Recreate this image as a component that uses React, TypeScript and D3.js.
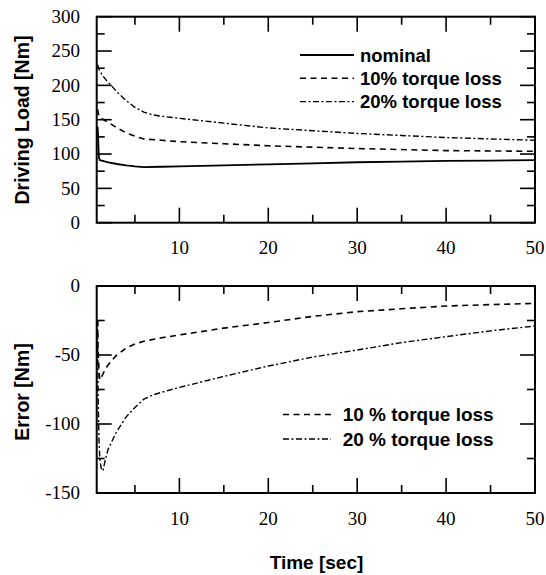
import React from "react";
import * as d3 from "d3";

// ---- Data ----
const xTicks = [5, 10, 15, 20, 25, 30, 35, 40, 45, 50];
const xTickLabels = [10, 20, 30, 40, 50];

const loadTicks = [0, 25, 50, 75, 100, 125, 150, 175, 200, 225, 250, 275, 300];
const loadTickLabels = [0, 50, 100, 150, 200, 250, 300];
const errTicks = [-150, -125, -100, -75, -50, -25, 0];
const errTickLabels = [-150, -100, -50, 0];

const timeNominal = [0.8, 0.85, 0.9, 0.95, 1.05, 1.5, 2, 3, 4, 5, 6, 8, 10, 15, 20, 25, 30, 35, 40, 45, 50];
const loadNominal = [140, 128, 110, 95, 91, 89.5, 88, 85.5, 83.5, 82, 81, 81.5, 82, 83.5, 85, 86.5, 88, 89, 90, 90.5, 91];

const timeLoad10 = [0.8, 0.9, 1.05, 1.5, 2, 3, 4, 5, 6, 8, 10, 15, 20, 25, 30, 35, 40, 45, 50];
const loadLoss10 = [165, 158, 153, 150, 146, 138, 131, 126, 122, 120, 118, 115, 112, 110, 108, 106.5, 105, 104.5, 104];

const timeLoad20 = [0.8, 0.9, 1.05, 1.5, 2, 2.4, 3, 4, 5, 6, 7, 8, 10, 15, 20, 25, 30, 35, 40, 45, 50];
const loadLoss20 = [230, 226, 221, 212, 204, 199, 190, 178, 168, 161, 157, 155, 152, 145, 138, 134, 130, 127, 124, 122, 120];

const timeErr10 = [0.8, 0.85, 0.95, 1.05, 1.25, 1.6, 2, 2.8, 4, 5, 6, 8, 10, 15, 20, 25, 30, 35, 40, 45, 50];
const errLoss10 = [-25, -45, -60, -68, -66, -61, -57, -51, -45, -42, -40, -37.5, -35.5, -30.5, -26.5, -22, -18.6, -16.5, -14.5, -13.5, -12.6];

const timeErr20 = [0.8, 0.85, 0.95, 1.05, 1.2, 1.4, 1.7, 2, 2.9, 4, 5, 6, 7, 8, 10, 15, 20, 25, 30, 35, 40, 45, 50];
const errLoss20 = [-25, -75, -110, -125, -132, -134, -125, -118, -106, -95, -88, -82, -79, -77, -73.5, -65.5, -58, -51.5, -46.4, -41, -36.7, -32.5, -29];

const topLegend = ["nominal", "10% torque loss", "20% torque loss"];
const bottomLegend = ["10 % torque loss", "20 % torque loss"];

// ---- Styles ----
const DASH_10 = "6,4.5";
const DASH_20 = "6,2.5,2,2.5";
const serif = "'Liberation Serif', 'Times New Roman', serif";
const sans = "'Liberation Sans', Arial, sans-serif";

const X0 = 96.7;
const X1 = 535;

function zip(t: number[], v: number[]): [number, number][] {
  return t.map((d, i) => [d, v[i]]);
}

type PanelProps = {
  top: number;
  bottom: number;
  domain: [number, number];
  ticks: number[];
  labels: number[];
  majorStep: number;
  children: (y: d3.ScaleLinear<number, number>) => React.ReactNode;
};

function Panel({ top, bottom, domain, ticks, labels, majorStep, children }: PanelProps) {
  const x = d3.scaleLinear().domain([0.7, 50]).range([X0, X1]);
  const y = d3.scaleLinear().domain(domain).range([bottom, top]);
  return (
    <g>
      {children(y)}
      <rect x={X0} y={top} width={X1 - X0} height={bottom - top} fill="none" stroke="#000" strokeWidth={2} />
      {xTicks.map((t) => {
        const len = t % 10 === 0 ? 15 : 8;
        return (
          <g key={"xt" + t}>
            <line x1={x(t)} x2={x(t)} y1={bottom} y2={bottom - len} stroke="#000" strokeWidth={1.6} />
            <line x1={x(t)} x2={x(t)} y1={top} y2={top + len} stroke="#000" strokeWidth={1.6} />
          </g>
        );
      })}
      {ticks.map((v) => {
        const len = v % majorStep === 0 ? 15 : 8;
        return (
          <g key={"yt" + v}>
            <line x1={X0} x2={X0 + len} y1={y(v)} y2={y(v)} stroke="#000" strokeWidth={1.6} />
            <line x1={X1} x2={X1 - len} y1={y(v)} y2={y(v)} stroke="#000" strokeWidth={1.6} />
          </g>
        );
      })}
      {xTickLabels.map((t) => (
        <text key={"xl" + t} x={x(t)} y={bottom + 31.5} textAnchor="middle" fontFamily={serif} fontSize={19}>
          {t}
        </text>
      ))}
      {labels.map((v) => (
        <text key={"yl" + v} x={80} y={y(v) + 6.4} textAnchor="end" fontFamily={serif} fontSize={19}>
          {v}
        </text>
      ))}
    </g>
  );
}

export default function App() {
  const x = d3.scaleLinear().domain([0.7, 50]).range([X0, X1]);
  const lineGen = (y: d3.ScaleLinear<number, number>) =>
    d3
      .line<[number, number]>()
      .x((d) => x(d[0]))
      .y((d) => y(d[1]));

  return (
    <svg width={546} height={575} style={{ position: "absolute", left: 0, top: 0, background: "#fff" }}>
      <rect x={0} y={0} width={546} height={575} fill="#fff" />
      {/* Top panel: Driving Load */}
      <Panel top={16.7} bottom={222.7} domain={[0, 300]} ticks={loadTicks} labels={loadTickLabels} majorStep={50}>
        {(y) => (
          <g fill="none" stroke="#000">
            <path d={lineGen(y)(zip(timeNominal, loadNominal)) || ""} strokeWidth={1.8} />
            <path d={lineGen(y)(zip(timeLoad10, loadLoss10)) || ""} strokeWidth={1.6} strokeDasharray={DASH_10} />
            <path d={lineGen(y)(zip(timeLoad20, loadLoss20)) || ""} strokeWidth={1.4} strokeDasharray={DASH_20} />
          </g>
        )}
      </Panel>
      {/* Top legend */}
      <g>
        {topLegend.map((s, i) => {
          const yy = 55 + i * 23.3;
          return (
            <g key={s}>
              <line
                x1={300}
                x2={354}
                y1={yy}
                y2={yy}
                stroke="#000"
                strokeWidth={i === 0 ? 1.8 : 1.4}
                strokeDasharray={i === 0 ? undefined : i === 1 ? DASH_10 : DASH_20}
              />
              <text x={360} y={yy + 6.8} fontFamily={sans} fontWeight="bold" fontSize={18.5}>
                {s}
              </text>
            </g>
          );
        })}
      </g>

      {/* Bottom panel: Error */}
      <Panel top={286} bottom={493} domain={[-150, 0]} ticks={errTicks} labels={errTickLabels} majorStep={50}>
        {(y) => (
          <g fill="none" stroke="#000">
            <path d={lineGen(y)(zip(timeErr10, errLoss10)) || ""} strokeWidth={1.6} strokeDasharray={DASH_10} />
            <path d={lineGen(y)(zip(timeErr20, errLoss20)) || ""} strokeWidth={1.4} strokeDasharray={DASH_20} />
          </g>
        )}
      </Panel>
      {/* Bottom legend */}
      <g>
        {bottomLegend.map((s, i) => {
          const yy = 414.5 + i * 24.5;
          return (
            <g key={s}>
              <line
                x1={283}
                x2={331}
                y1={yy}
                y2={yy}
                stroke="#000"
                strokeWidth={1.4}
                strokeDasharray={i === 0 ? DASH_10 : DASH_20}
              />
              <text x={342.7} y={yy + 6.8} fontFamily={sans} fontWeight="bold" fontSize={19}>
                {s}
              </text>
            </g>
          );
        })}
      </g>

      {/* Axis titles */}
      <text
        transform="translate(28.5,120) rotate(-90)"
        textAnchor="middle"
        fontFamily={sans}
        fontWeight="bold"
        fontSize={19.5}
      >
        Driving Load [Nm]
      </text>
      <text
        transform="translate(28.5,392) rotate(-90)"
        textAnchor="middle"
        fontFamily={sans}
        fontWeight="bold"
        fontSize={19.5}
      >
        Error [Nm]
      </text>
      <text x={316.5} y={568.5} textAnchor="middle" fontFamily={sans} fontWeight="bold" fontSize={19}>
        Time [sec]
      </text>
    </svg>
  );
}
